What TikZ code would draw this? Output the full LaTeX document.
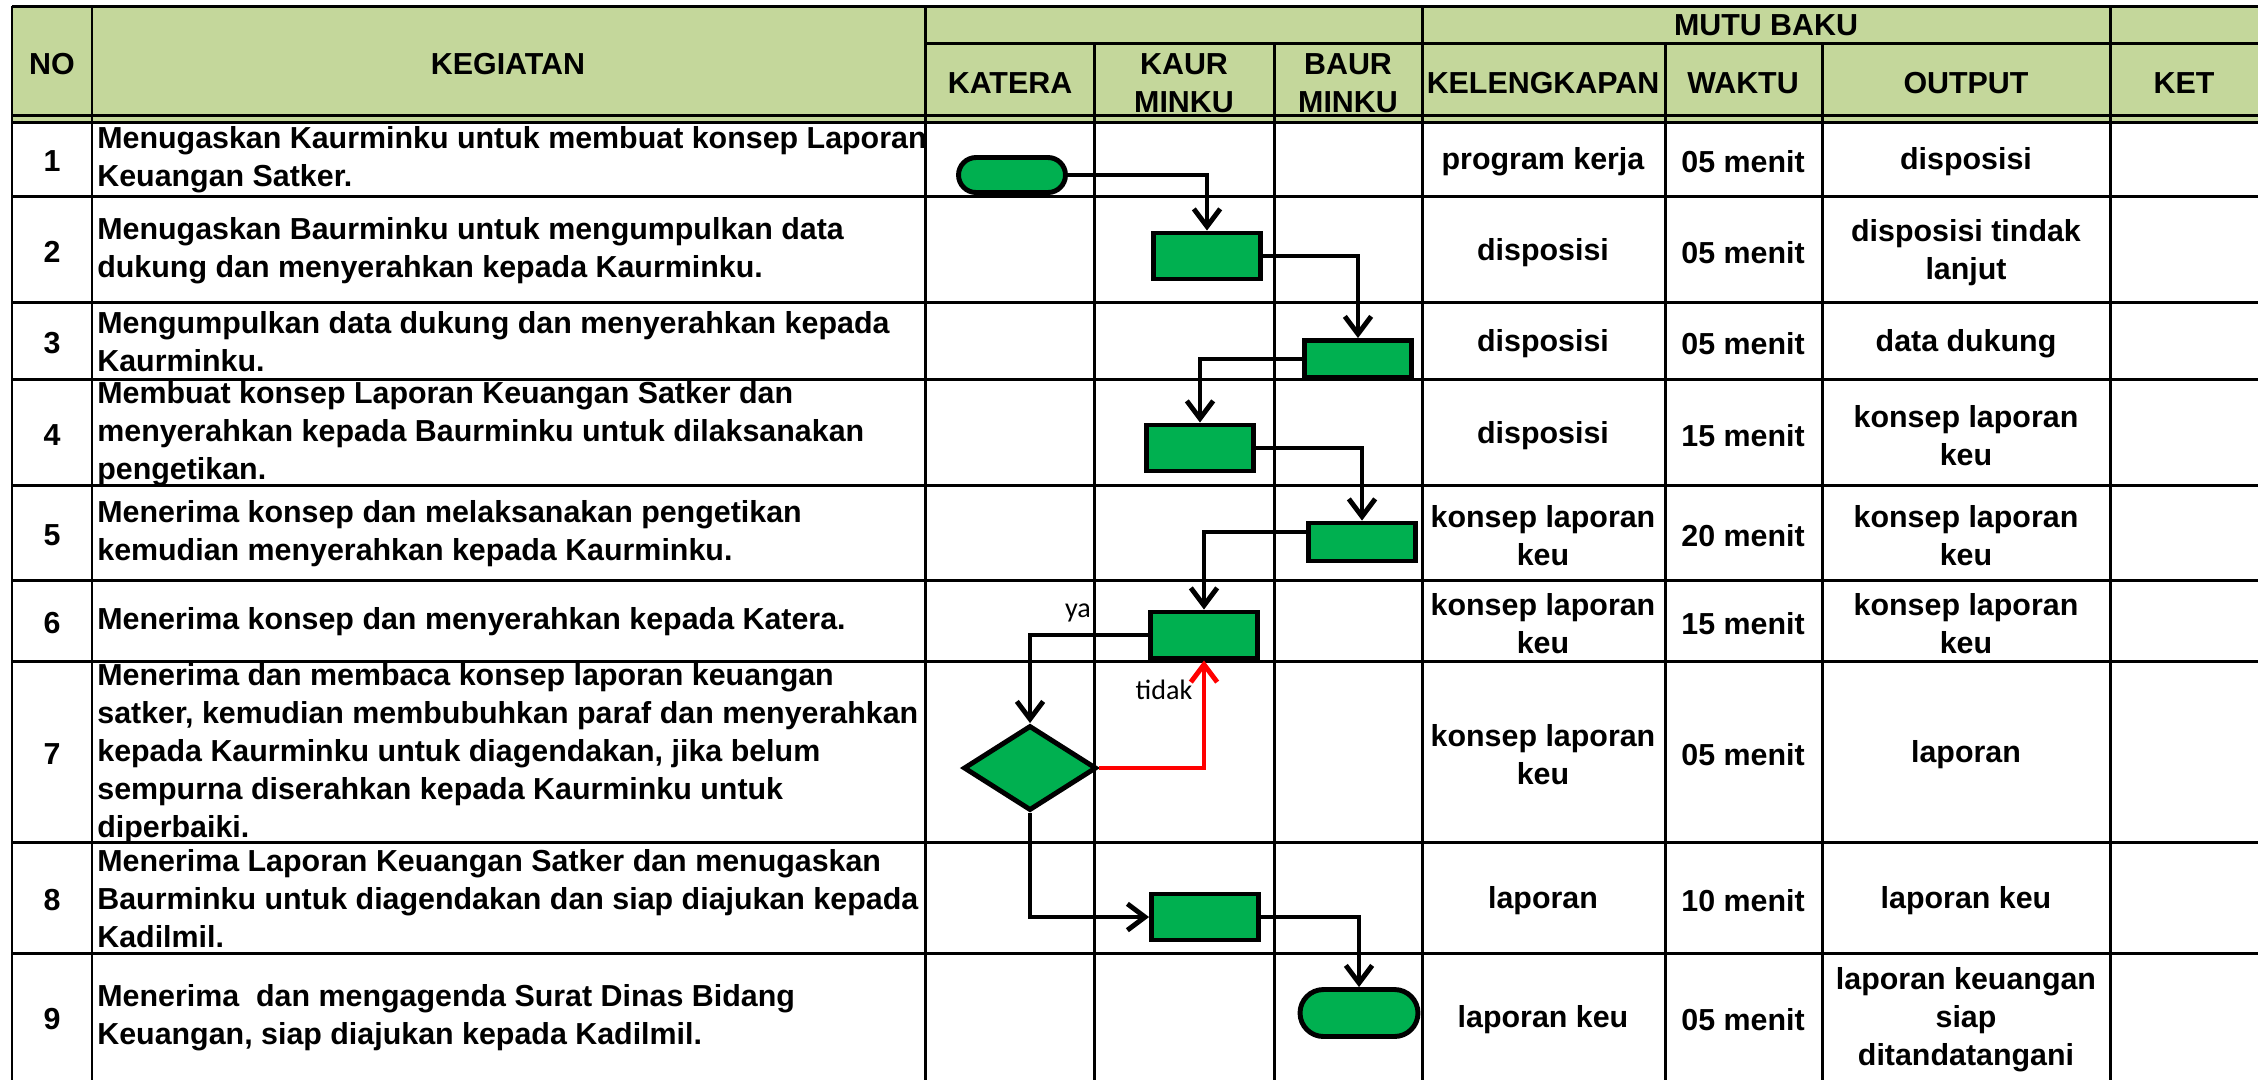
\documentclass[tikz,border=0pt]{standalone}
\usepackage{fontspec}
\setmainfont{Liberation Sans}
\newfontfamily\labelfont{Carlito}
\usetikzlibrary{shapes.geometric}
\usetikzlibrary{shapes.misc}
\usetikzlibrary{arrows.meta}
\usepackage{xcolor}
\definecolor{hijaumuda}{HTML}{C4D79B}
\definecolor{hijau}{HTML}{00B050}

\begin{document}
\begin{tikzpicture}[x=0.02cm,y=-0.02cm,
  every node/.style={font=\bfseries\fontsize{17.3}{21.6}\selectfont,inner sep=0pt,align=center},
  kegiatan/.style={anchor=west,align=left},
  garis/.style={line width=1.7pt},
  proses/.style={draw,fill=hijau,line width=2.8pt,minimum width=2.14cm,minimum height=0.92cm},
  ujung/.style={rounded rectangle,draw,fill=hijau,line width=2.8pt,minimum width=2.14cm,minimum height=0.7cm},
  pilih/.style={diamond,draw,fill=hijau,line width=2.8pt,minimum width=2.66cm,minimum height=1.7cm},
  alur/.style={line width=2.8pt,-{Straight Barb[length=10pt,width=15pt]}},
  ket/.style={font=\labelfont\fontsize{16}{19}\selectfont}]
  \useasboundingbox (0,0) rectangle (2258,1080);
  \fill[hijaumuda] (12,6) rectangle (2258,122);
  \draw[garis] (12,6) -- (2258,6);
  \draw[garis] (925,43) -- (2258,43);
  \draw[garis] (12,115) -- (2258,115);
  \draw[garis] (12,122) -- (2258,122);
  \draw[garis] (12,196) -- (2258,196);
  \draw[garis] (12,302) -- (2258,302);
  \draw[garis] (12,379) -- (2258,379);
  \draw[garis] (12,485) -- (2258,485);
  \draw[garis] (12,580) -- (2258,580);
  \draw[garis] (12,661) -- (2258,661);
  \draw[garis] (12,842) -- (2258,842);
  \draw[garis] (12,953) -- (2258,953);
  \draw[garis] (12,6) -- (12,1080);
  \draw[garis] (92,6) -- (92,1080);
  \draw[garis] (925,6) -- (925,1080);
  \draw[garis] (1094,43) -- (1094,1080);
  \draw[garis] (1274,43) -- (1274,1080);
  \draw[garis] (1422,6) -- (1422,1080);
  \draw[garis] (1665,43) -- (1665,1080);
  \draw[garis] (1822,43) -- (1822,1080);
  \draw[garis] (2110,6) -- (2110,1080);

  \node (hno) at (52,64) {NO};
    \node (hkeg) at (508,64) {KEGIATAN};
    \node (hkatera) at (1010,83) {KATERA};
    \node (hkaur) at (1184,83) {KAUR\\MINKU};
    \node (hbaur) at (1348,83) {BAUR\\MINKU};
    \node (hmutu) at (1766,25) {MUTU BAKU};
    \node (hlengkap) at (1543,83) {KELENGKAPAN};
    \node (hwaktu) at (1743,83) {WAKTU};
    \node (houtput) at (1966,83) {OUTPUT};
    \node (hket) at (2184,83) {KET};

  \node (no1) at (52,161) {1};
    \node (no2) at (52,252) {2};
    \node (no3) at (52,343) {3};
    \node (no4) at (52,435) {4};
    \node (no5) at (52,535) {5};
    \node (no6) at (52,623) {6};
    \node (no7) at (52,754) {7};
    \node (no8) at (52,900) {8};
    \node (no9) at (52,1019) {9};

  \node[kegiatan] (keg1) at (97,160) {Menugaskan Kaurminku untuk membuat konsep Laporan\\Keuangan Satker.};
    \node[kegiatan] (keg2) at (97,251) {Menugaskan Baurminku untuk mengumpulkan data\\dukung dan menyerahkan kepada Kaurminku.};
    \node[kegiatan] (keg3) at (97,342) {Mengumpulkan data dukung dan menyerahkan kepada\\Kaurminku.};
    \node[kegiatan] (keg4) at (97,434) {Membuat konsep Laporan Keuangan Satker dan\\menyerahkan kepada Baurminku untuk dilaksanakan\\pengetikan.};
    \node[kegiatan] (keg5) at (97,534) {Menerima konsep dan melaksanakan pengetikan\\kemudian menyerahkan kepada Kaurminku.};
    \node[kegiatan] (keg6) at (97,622) {Menerima konsep dan menyerahkan kepada Katera.};
    \node[kegiatan] (keg7) at (97,754) {Menerima dan membaca konsep laporan keuangan\\satker, kemudian membubuhkan paraf dan menyerahkan\\kepada Kaurminku untuk diagendakan, jika belum\\sempurna diserahkan kepada Kaurminku untuk\\diperbaiki.};
    \node[kegiatan] (keg8) at (97,899) {Menerima Laporan Keuangan Satker dan menugaskan\\Baurminku untuk diagendakan dan siap diajukan kepada\\Kadilmil.};
    \node[kegiatan] (keg9) at (97,1018) {Menerima~ dan mengagenda Surat Dinas Bidang\\Keuangan, siap diajukan kepada Kadilmil.};

  \node (lengkap1) at (1543,162) {program kerja};
    \node (lengkap2) at (1543,253) {disposisi};
    \node (lengkap3) at (1543,344) {disposisi};
    \node (lengkap4) at (1543,436) {disposisi};
    \node (lengkap5) at (1543,536) {konsep laporan\\keu};
    \node (lengkap6) at (1543,624) {konsep laporan\\keu};
    \node (lengkap7) at (1543,755) {konsep laporan\\keu};
    \node (lengkap8) at (1543,901) {laporan};
    \node (lengkap9) at (1543,1020) {laporan keu};

  \node (waktu1) at (1743,162) {05 menit};
    \node (waktu2) at (1743,253) {05 menit};
    \node (waktu3) at (1743,344) {05 menit};
    \node (waktu4) at (1743,436) {15 menit};
    \node (waktu5) at (1743,536) {20 menit};
    \node (waktu6) at (1743,624) {15 menit};
    \node (waktu7) at (1743,755) {05 menit};
    \node (waktu8) at (1743,901) {10 menit};
    \node (waktu9) at (1743,1020) {05 menit};

  \node (output1) at (1966,162) {disposisi};
    \node (output2) at (1966,253) {disposisi tindak\\lanjut};
    \node (output3) at (1966,344) {data dukung};
    \node (output4) at (1966,436) {konsep laporan\\keu};
    \node (output5) at (1966,536) {konsep laporan\\keu};
    \node (output6) at (1966,624) {konsep laporan\\keu};
    \node (output7) at (1966,755) {laporan};
    \node (output8) at (1966,901) {laporan keu};
    \node (output9) at (1966,1020) {laporan keuangan\\siap\\ditandatangani};

  \node[ujung] (mulai) at (1012,175) {};
    \node[proses] (kaur1) at (1207,256) {};
    \node[proses,minimum height=0.74cm] (baur1) at (1358,359) {};
    \node[proses] (kaur2) at (1200,448) {};
    \node[proses,minimum height=0.76cm] (baur2) at (1362,542) {};
    \node[proses] (kaur3) at (1204,635) {};
    \node[pilih] (cek) at (1030,768) {};
    \node[proses] (kaur4) at (1205,917) {};
    \node[ujung,minimum width=2.36cm,minimum height=0.94cm] (selesai) at (1359,1013) {};
    \node[ket] (ya) at (1078,613) {ya};
    \node[ket] (tidak) at (1164,690) {tidak};
    \draw[alur] (mulai.east) -| (kaur1.north);
    \draw[alur] (kaur1.east) -| (baur1.north);
    \draw[alur] (baur1.west) -| (kaur2.north);
    \draw[alur] (kaur2.east) -| (baur2.north);
    \draw[alur] ([yshift=0.2cm]baur2.west) -| (kaur3.north);
    \draw[alur] (kaur3.west) -| (cek.north);
    \draw[alur,red] (cek.east) -| (kaur3.south);
    \draw[alur] (cek.south) |- (kaur4.west);
    \draw[alur] (kaur4.east) -| (selesai.north);
\end{tikzpicture}
\end{document}
